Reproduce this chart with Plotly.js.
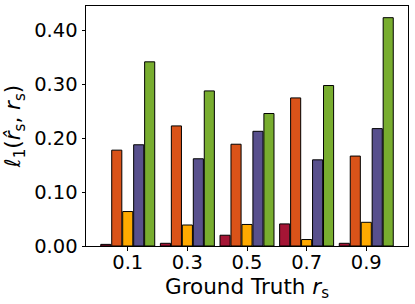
<!DOCTYPE html>
<html>
<head>
<meta charset="utf-8">
<script src="https://cdn.plot.ly/plotly-3.0.1.min.js"></script>
<style>html,body{margin:0;padding:0;background:#fff;}#chart{width:415px;height:304px;}</style>
</head>
<body>
<div id="chart"></div>
<script>
const groundTruth = [0.1, 0.3, 0.5, 0.7, 0.9];
const tickLabels = ["0.1", "0.3", "0.5", "0.7", "0.9"];
const seriesA = [0.003, 0.005, 0.020, 0.041, 0.005];
const seriesB = [0.178, 0.223, 0.189, 0.275, 0.167];
const seriesC = [0.064, 0.039, 0.040, 0.012, 0.044];
const seriesD = [0.188, 0.162, 0.213, 0.160, 0.218];
const seriesE = [0.342, 0.288, 0.246, 0.298, 0.424];
const colors = ["#A51535", "#DA5319", "#FFAA00", "#58508D", "#78AD2F"];

const all = [seriesA, seriesB, seriesC, seriesD, seriesE];
const traces = all.map((s, i) => ({
  type: "bar",
  x: groundTruth,
  y: s,
  marker: {color: colors[i], line: {color: "#000", width: 1}},
  showlegend: false,
  hoverinfo: "none"
}));

const layout = {
  width: 415, height: 304,
  margin: {l: 86, r: 7, t: 6, b: 58},
  paper_bgcolor: "#fff", plot_bgcolor: "#fff",
  barmode: "group",
  bargap: 0.08,
  bargroupgap: 0.08,
  font: {family: "DejaVu Sans", color: "#000"},
  xaxis: {
    range: [-0.04, 1.04],
    tickmode: "array", tickvals: groundTruth, ticktext: tickLabels,
    ticks: "outside", ticklen: 3.5, tickcolor: "#000",
    ticklabelstandoff: -5,
    tickfont: {size: 19.5, family: "DejaVu Sans", color: "#000"},
    showline: true, linecolor: "#000", linewidth: 1, mirror: true,
    showgrid: false, zeroline: false,
    title: {text: "Ground Truth <i>r</i><sub>s</sub>", font: {size: 21.5, family: "DejaVu Sans", color: "#000"}, standoff: 4}
  },
  yaxis: {
    range: [0, 0.4457],
    tickmode: "array", tickvals: [0, 0.1, 0.2, 0.3, 0.4],
    ticktext: ["0.00", "0.10", "0.20", "0.30", "0.40"],
    ticks: "outside", ticklen: 3.5, tickcolor: "#000",
    tickfont: {size: 19.5, family: "DejaVu Sans", color: "#000"},
    showline: true, linecolor: "#000", linewidth: 1, mirror: true,
    showgrid: false, zeroline: false,
    title: {text: "<i>ℓ</i><sub>1</sub>(<i>r̂</i><sub>s</sub>, <i>r</i><sub>s</sub>)", font: {size: 21.5, family: "DejaVu Sans", color: "#000"}, standoff: 8}
  }
};

Plotly.newPlot("chart", traces, layout, {staticPlot: true, displayModeBar: false});
</script>
</body>
</html>
